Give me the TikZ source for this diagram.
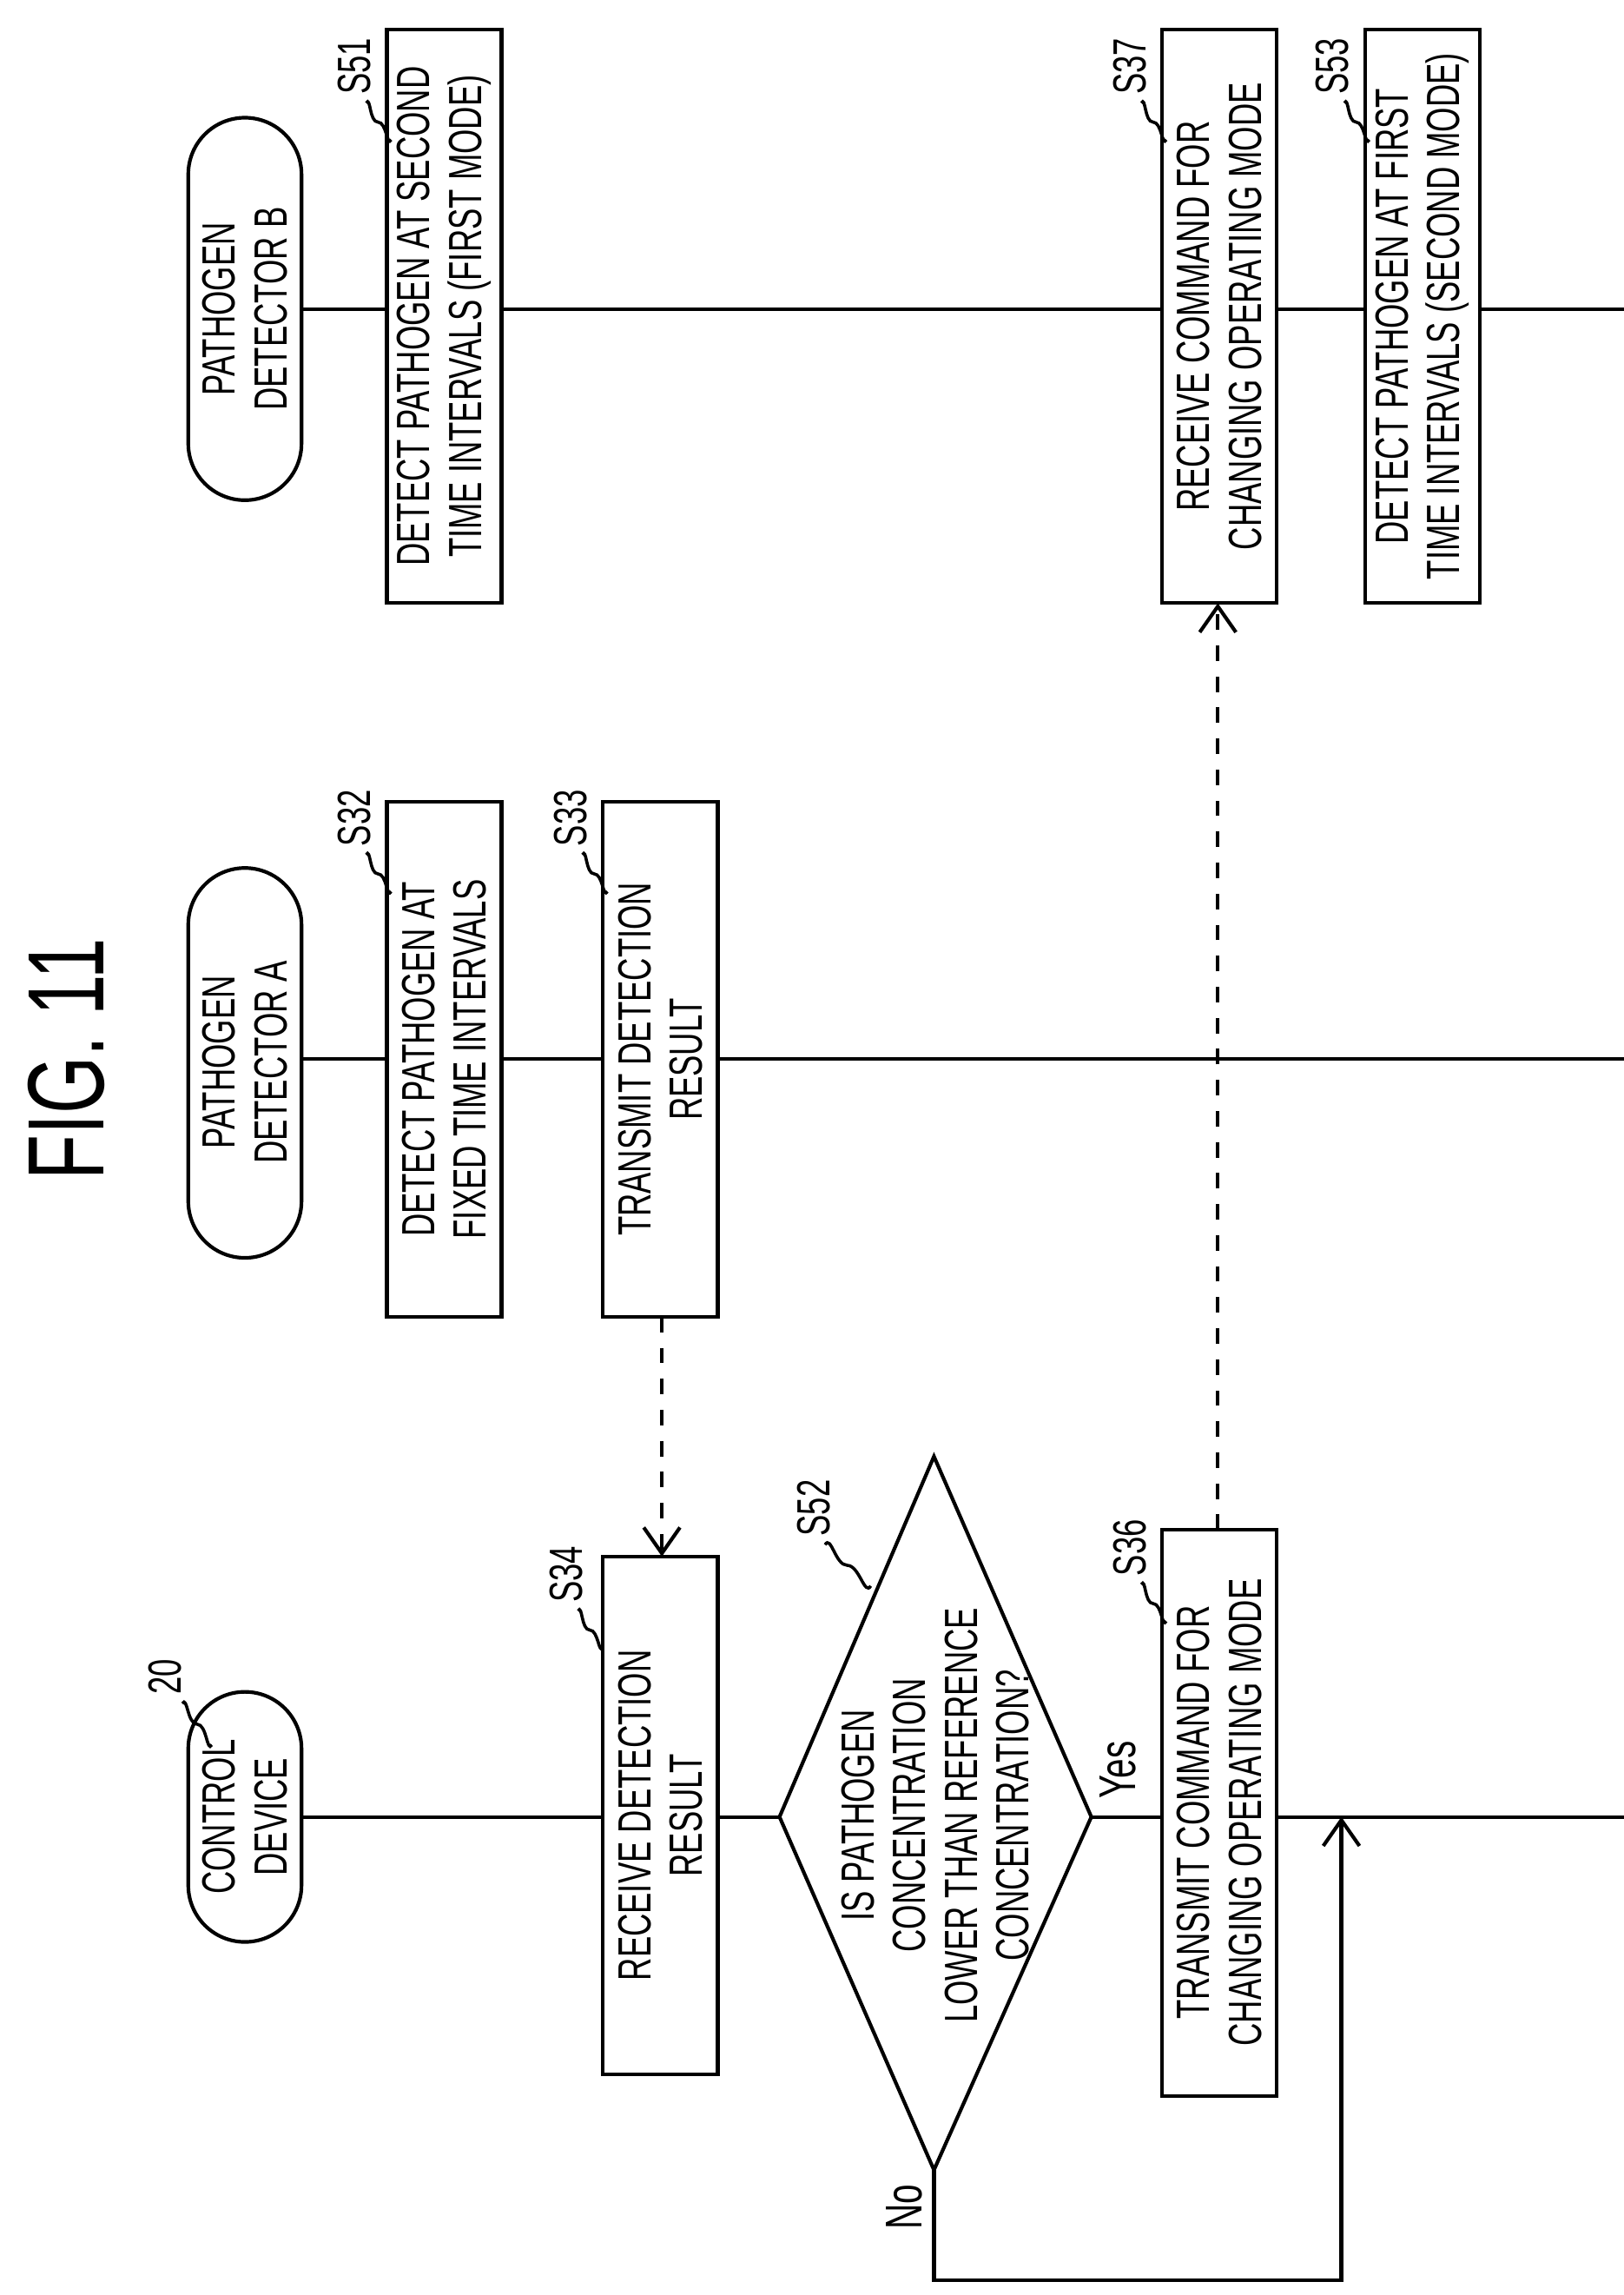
\documentclass[tikz,border=0pt]{standalone}
\usepackage{fontspec}
\setmainfont{Liberation Sans}[FakeStretch=0.68]
\usetikzlibrary{shapes.geometric,arrows.meta}
\begin{document}
\begin{tikzpicture}[x=0.01cm,y=-0.01cm,line width=0.7pt,
  txt/.style={font=\fontsize{9}{10}\selectfont,align=center,rotate=90},
  lbl/.style={font=\fontsize{9}{10}\selectfont,rotate=90,inner sep=1pt},
  lead/.style={line width=0.6pt},
  term/.style={rounded corners=0.385cm},
  dasharr/.style={dashed,-{Straight Barb[length=5pt,width=7pt]}},
  arr/.style={-{Straight Barb[length=5pt,width=7pt]}}]
\useasboundingbox (0,0) rectangle (1104,1560);
% title
\node[rotate=90,font=\fontsize{21}{24}\selectfont] (title) at (45,720) {FIG. 11};
% lanes
\coordinate (c0) at (205,1235); \coordinate (c1) at (1104,1235);
\coordinate (a0) at (205,720); \coordinate (a1) at (1104,720);
\coordinate (b0) at (205,210); \coordinate (b1) at (1104,210);
\draw (c0)--(410,1235); \draw (488,1235)--(530,1235); \draw (742,1235)--(790,1235); \draw (868,1235)--(c1);
\draw (a0)--(263,720); \draw (341,720)--(410,720); \draw (488,720)--(a1);
\draw (b0)--(263,210); \draw (341,210)--(790,210); \draw (868,210)--(928,210); \draw (1006,210)--(b1);
% terminals
\draw[term] (128,1150) rectangle (205,1320);
\node[txt] (tc) at (166.5,1235) {CONTROL\\DEVICE};
\draw[term] (128,590) rectangle (205,855);
\node[txt] (ta) at (166.5,722) {PATHOGEN\\DETECTOR A};
\draw[term] (128,80) rectangle (205,340);
\node[txt] (tb) at (166.5,210) {PATHOGEN\\DETECTOR B};
% boxes
\draw (410,1058) rectangle (488,1410); \node[txt] (s34) at (449,1234) {RECEIVE DETECTION\\RESULT};
\draw (790,1040) rectangle (868,1425); \node[txt] (s36) at (829,1232) {TRANSMIT COMMAND FOR\\CHANGING OPERATING MODE};
\draw (263,545) rectangle (341,895); \node[txt] (s32) at (302,720) {DETECT PATHOGEN AT\\FIXED TIME INTERVALS};
\draw (410,545) rectangle (488,895); \node[txt] (s33) at (449,720) {TRANSMIT DETECTION\\RESULT};
\draw (263,20) rectangle (341,410); \node[txt] (s51) at (302,215) {DETECT PATHOGEN AT SECOND\\TIME INTERVALS (FIRST MODE)};
\draw (790,20) rectangle (868,410); \node[txt] (s37) at (829,215) {RECEIVE COMMAND FOR\\CHANGING OPERATING MODE};
\draw (928,20) rectangle (1006,410); \node[txt] (s53) at (967,215) {DETECT PATHOGEN AT FIRST\\TIME INTERVALS (SECOND MODE)};
% diamond
\draw (530,1235)--(635,990)--(742,1235)--(635,1475)--cycle;
\node[txt] (s52) at (636,1234) {IS PATHOGEN\\CONCENTRATION\\LOWER THAN REFERENCE\\CONCENTRATION?};
% labels
\node[lbl] (l20) at (112,1140) {20}; \draw[lead] (124,1158) to[out=60,in=180] (134,1172) to[out=0,in=240] (144,1186);
\node[lbl] (l34) at (385,1070) {S34}; \draw[lead] (393,1095) to[out=60,in=180] (401,1108) to[out=0,in=240] (410,1120);
\node[lbl] (l52) at (553,1025) {S52}; \draw[lead] (561,1050) to[out=60,in=180] (576,1064) to[out=0,in=240] (592,1078);
\node[lbl] (l36) at (768,1052) {S36}; \draw[lead] (776,1077) to[out=60,in=180] (784,1090) to[out=0,in=240] (793,1102);
\node[lbl] (l32) at (241,556) {S32}; \draw[lead] (249,581) to[out=60,in=180] (257,594) to[out=0,in=240] (266,606);
\node[lbl] (l33) at (388,556) {S33}; \draw[lead] (396,581) to[out=60,in=180] (404,594) to[out=0,in=240] (413,606);
\node[lbl] (l51) at (241,45) {S51}; \draw[lead] (249,70) to[out=60,in=180] (257,83) to[out=0,in=240] (266,95);
\node[lbl] (l37) at (768,45) {S37}; \draw[lead] (776,70) to[out=60,in=180] (784,83) to[out=0,in=240] (793,95);
\node[lbl] (l53) at (906,45) {S53}; \draw[lead] (914,70) to[out=60,in=180] (922,83) to[out=0,in=240] (931,95);
% dashed arrows
\coordinate (d1) at (450,895); \coordinate (d2) at (450,1058);
\draw[dasharr] (d1)--(d2);
\coordinate (e1) at (828,1040); \coordinate (e2) at (828,410);
\draw[dasharr] (e1)--(e2);
% No loop
\coordinate (n0) at (635,1475); \coordinate (n3) at (912,1235);
\draw[arr] (n0)--(635,1550)--(912,1550)--(n3);
\node[lbl,font=\fontsize{10}{11}\selectfont] (no) at (615,1500) {No};
\node[lbl,font=\fontsize{10}{11}\selectfont] (yes) at (760,1203) {Yes};
\end{tikzpicture}
\end{document}
